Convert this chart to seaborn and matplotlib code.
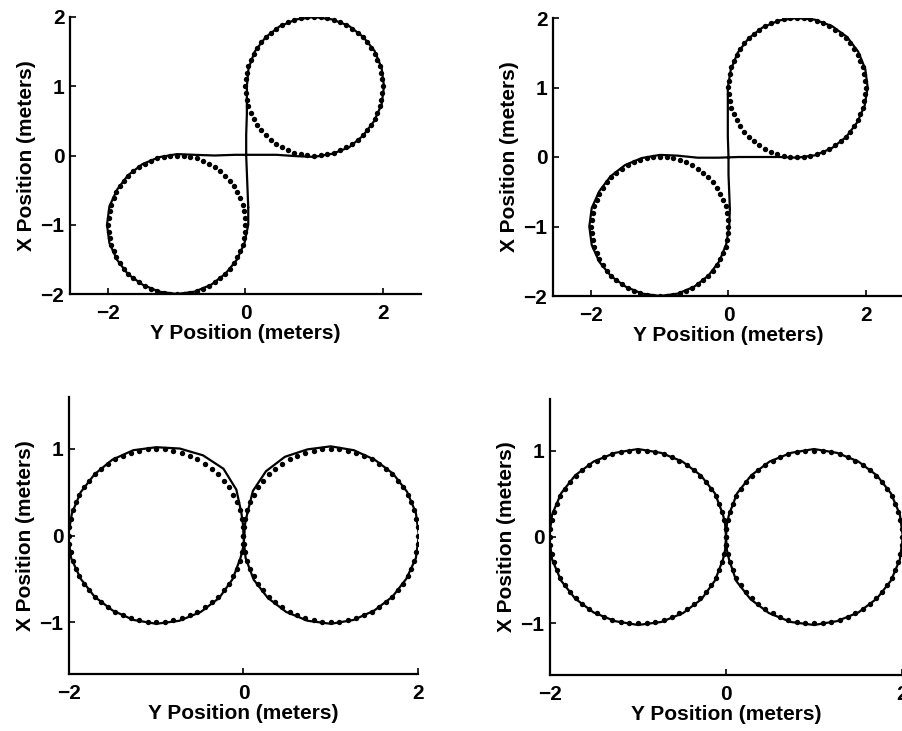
import numpy as np
import pandas as pd
import matplotlib
matplotlib.use("Agg")
import matplotlib.pyplot as plt
import seaborn as sns

# ---------------------------------------------------------------------------
# Desired paths: figure-eights made of two unit circles (dotted markers)
# ---------------------------------------------------------------------------
REF_RADIUS = 1.0
REF_DOTS = 64                                  # markers per reference circle
top_centers = [(1.0, 1.0), (-1.0, -1.0)]       # (Y, X) centres, top row
bottom_centers = [(-1.0, 0.0), (1.0, 0.0)]     # (Y, X) centres, bottom row

# ---------------------------------------------------------------------------
# Measured trajectories (solid lines)
# arcs: sample angle (deg) about a circle centre and measured radius (m)
# ---------------------------------------------------------------------------
top_upper_angles = [180, 165, 150, 135, 120, 105, 90, 75, 60, 45, 30, 15,
                    0, -15, -30, -45, -60, -75, -90]
top_lower_angles = [90, 105, 120, 135, 150, 165, 180, 195, 210, 225, 240,
                    255, 270, 285, 300, 315, 330, 345, 360]

tl_upper_radii = [0.98, 0.99, 1.00, 1.00, 1.00, 1.00, 1.00, 1.00, 1.01, 1.01,
                  1.02, 1.02, 1.02, 1.02, 1.01, 1.01, 1.02, 1.01, 1.02]
tl_lower_radii = [1.02, 1.01, 1.01, 1.01, 1.01, 1.02, 1.02, 1.02, 1.01, 1.01,
                  1.00, 1.00, 1.00, 1.00, 1.00, 1.00, 1.01, 1.02, 1.04]
tl_cross_y = [0.75, 0.45, 0.15, -0.15, -0.45, -0.75]
tl_cross_x = [-0.01, 0.01, 0.01, 0.01, 0.00, 0.01]
tl_riser_y = [0.04, 0.03, 0.02, 0.01, 0.01, 0.02, 0.02]
tl_riser_x = [-0.75, -0.50, -0.25, 0.00, 0.30, 0.60, 0.85]

tr_upper_radii = [1.01, 1.00, 1.00, 1.00, 1.00, 1.00, 1.00, 1.01, 1.02, 1.03,
                  1.03, 1.03, 1.03, 1.02, 1.01, 1.01, 1.01, 1.01, 1.01]
tr_lower_radii = [1.03, 1.02, 1.02, 1.02, 1.02, 1.03, 1.03, 1.03, 1.02, 1.01,
                  1.00, 1.00, 1.00, 1.00, 1.00, 1.00, 1.00, 1.00, 1.01]
tr_cross_y = [0.75, 0.45, 0.15, -0.15, -0.45, -0.75]
tr_cross_x = [0.00, 0.00, 0.00, -0.01, -0.01, 0.02]
tr_riser_y = [0.02, 0.01, 0.00, 0.00, -0.01, -0.01, -0.01]
tr_riser_x = [-0.75, -0.50, -0.25, 0.00, 0.30, 0.60, 0.85]

bottom_right_angles = [165, 150, 135, 120, 105, 90, 75, 60, 45, 30, 15, 0,
                       -15, -30, -45, -60, -75, -90, -105, -120, -135, -150, -165]
bottom_left_angles = [15, 30, 45, 60, 75, 90, 105, 120, 135, 150, 165, 180,
                      195, 210, 225, 240, 255, 270, 285, 300, 315, 330, 345]

bl_right_radii = [0.99, 1.03, 1.05, 1.05, 1.03, 1.03, 1.02, 1.01, 1.01, 1.01,
                  1.01, 1.01, 1.01, 1.00, 1.00, 1.00, 1.01, 1.02, 1.02, 1.02,
                  1.02, 1.02, 1.01]
bl_left_radii = [1.01, 1.06, 1.09, 1.07, 1.04, 1.02, 1.02, 1.01, 1.00, 1.00,
                 1.00, 1.01, 1.01, 1.00, 1.00, 1.00, 1.01, 1.02, 1.02, 1.02,
                 1.02, 1.01, 1.00]
bl_cross_a_y = [0.010, 0.000, -0.005]
bl_cross_a_x = [-0.12, 0.00, 0.12]
bl_cross_b_y = [0.000, 0.010, 0.015]
bl_cross_b_x = [-0.12, 0.00, 0.12]

br_right_radii = [1.00, 1.01, 1.01, 1.01, 1.01, 1.02, 1.01, 1.01, 1.01, 1.01,
                  1.01, 1.01, 1.01, 1.01, 1.01, 1.01, 1.01, 1.02, 1.02, 1.02,
                  1.02, 1.02, 1.00]
br_left_radii = [1.00, 1.01, 1.01, 1.01, 1.01, 1.02, 1.01, 1.01, 1.01, 1.01,
                 1.01, 1.01, 1.01, 1.01, 1.01, 1.01, 1.01, 1.02, 1.02, 1.02,
                 1.02, 1.01, 1.00]
br_cross_a_y = [0.01, 0.00, -0.01]
br_cross_a_x = [-0.15, 0.00, 0.15]
br_cross_b_y = [-0.01, 0.00, 0.01]
br_cross_b_x = [-0.15, 0.00, 0.15]

# axis setup
top_xlim, top_ylim = (-2.56, 2.56), (-2.0, 2.0)
bottom_xlim, bottom_ylim = (-2.0, 2.0), (-1.6, 1.6)
top_xticks, top_yticks = [-2, 0, 2], [-2, -1, 0, 1, 2]
bottom_xticks, bottom_yticks = [-2, 0, 2], [-1, 0, 1]
XLABEL = "Y Position (meters)"
YLABEL = "X Position (meters)"


def arc(center, angles, radii):
    a = np.deg2rad(np.asarray(angles, dtype=float))
    r = np.asarray(radii, dtype=float)
    return center[0] + r * np.cos(a), center[1] + r * np.sin(a)


def path_frame(pieces):
    ys = np.concatenate([p[0] for p in pieces] + [pieces[0][0][:1]])
    xs = np.concatenate([p[1] for p in pieces] + [pieces[0][1][:1]])
    return pd.DataFrame({"Y": ys, "X": xs, "step": np.arange(len(ys))})


def reference_frame(centers):
    ang = np.linspace(0.0, 2 * np.pi, REF_DOTS, endpoint=False)
    frames = []
    for cy, cx in centers:
        frames.append(pd.DataFrame({"Y": cy + REF_RADIUS * np.cos(ang),
                                    "X": cx + REF_RADIUS * np.sin(ang)}))
    return pd.concat(frames, ignore_index=True)


def top_path(upper_r, lower_r, cross_y, cross_x, riser_y, riser_x):
    return path_frame([
        (np.asarray(riser_y), np.asarray(riser_x)),
        arc(top_centers[0], top_upper_angles, upper_r),
        (np.asarray(cross_y), np.asarray(cross_x)),
        arc(top_centers[1], top_lower_angles, lower_r),
    ])


def bottom_path(right_r, left_r, ay, ax_, by, bx):
    return path_frame([
        arc(bottom_centers[1], bottom_right_angles, right_r),
        (np.asarray(ay), np.asarray(ax_)),
        arc(bottom_centers[0], bottom_left_angles, left_r),
        (np.asarray(by), np.asarray(bx)),
    ])


sns.set_theme(style="ticks")
plt.rcParams["font.family"] = ["Liberation Sans", "DejaVu Sans"]
plt.rcParams["axes.unicode_minus"] = True

FS = 15
fig = plt.figure(figsize=(9.03, 7.31), dpi=100)
fig.patch.set_facecolor("white")

panels = [
    ([70 / 903, 1 - 294 / 731, 351 / 903, 277 / 731],
     top_path(tl_upper_radii, tl_lower_radii, tl_cross_y, tl_cross_x,
              tl_riser_y, tl_riser_x), top_centers,
     top_xlim, top_ylim, top_xticks, top_yticks),
    ([553 / 903, 1 - 296 / 731, 351 / 903, 278 / 731],
     top_path(tr_upper_radii, tr_lower_radii, tr_cross_y, tr_cross_x,
              tr_riser_y, tr_riser_x), top_centers,
     top_xlim, top_ylim, top_xticks, top_yticks),
    ([69 / 903, 1 - 674 / 731, 349 / 903, 277 / 731],
     bottom_path(bl_right_radii, bl_left_radii, bl_cross_a_y, bl_cross_a_x,
                 bl_cross_b_y, bl_cross_b_x), bottom_centers,
     bottom_xlim, bottom_ylim, bottom_xticks, bottom_yticks),
    ([550 / 903, 1 - 675 / 731, 352 / 903, 276 / 731],
     bottom_path(br_right_radii, br_left_radii, br_cross_a_y, br_cross_a_x,
                 br_cross_b_y, br_cross_b_x), bottom_centers,
     bottom_xlim, bottom_ylim, bottom_xticks, bottom_yticks),
]

for rect, traj, centers, xlim, ylim, xticks, yticks in panels:
    ax = fig.add_axes(rect)
    ax.set_facecolor("white")
    ref = reference_frame(centers)
    sns.scatterplot(data=ref, x="Y", y="X", ax=ax, color="black", s=15,
                    linewidth=0, marker="o", zorder=2)
    sns.lineplot(data=traj, x="Y", y="X", ax=ax, sort=False, estimator=None,
                 color="black", linewidth=1.6, zorder=3,
                 solid_joinstyle="round")
    ax.set_xlim(*xlim)
    ax.set_ylim(*ylim)
    ax.set_xticks(xticks)
    ax.set_yticks(yticks)
    sns.despine(ax=ax)
    for side in ("left", "bottom"):
        ax.spines[side].set_linewidth(1.6)
        ax.spines[side].set_color("black")
    ax.tick_params(direction="in", length=4, width=1.2, colors="black",
                   labelsize=FS)
    ax.tick_params(axis="x", pad=7)
    ax.tick_params(axis="y", pad=4)
    for lab in ax.get_xticklabels() + ax.get_yticklabels():
        lab.set_fontweight("bold")
    ax.set_xlabel(XLABEL, fontsize=FS, fontweight="bold", labelpad=1,
                  color="black")
    ax.set_ylabel(YLABEL, fontsize=FS, fontweight="bold", labelpad=3,
                  color="black")

fig.savefig("out.png", dpi=100, facecolor="white")
